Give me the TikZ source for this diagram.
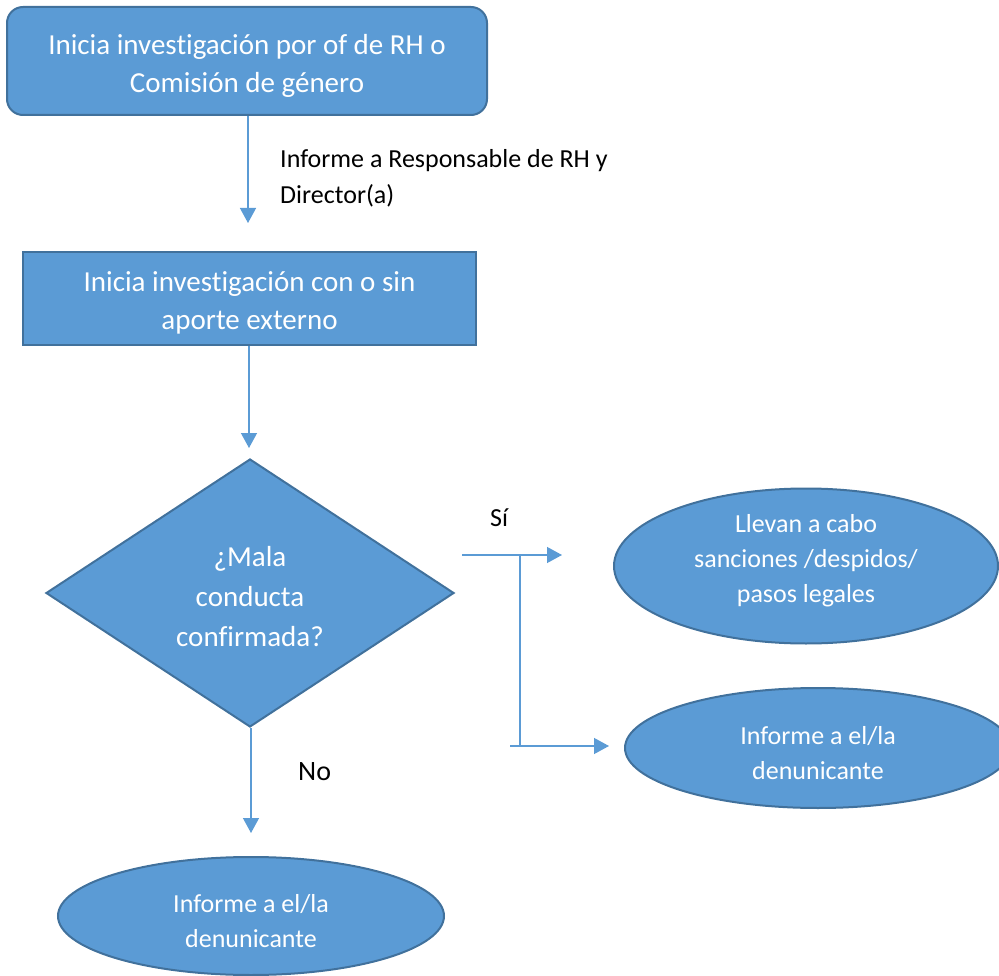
\documentclass[tikz,border=0pt]{standalone}
\usepackage{fontspec}
\setmainfont{Carlito}[Ligatures=NoCommon]
\usetikzlibrary{shapes.geometric,arrows.meta}
\definecolor{boxfill}{HTML}{5B9BD5}
\definecolor{boxline}{HTML}{41719C}
\definecolor{conn}{HTML}{5B9BD5}
\tikzset{
  shp/.style={fill=boxfill,draw=boxline,line width=2pt,inner sep=0pt},
  txt/.style={text=white,align=center,inner sep=0pt},
  bigtxt/.style={font=\fontsize{29}{38}\selectfont},
  elltxt/.style={font=\fontsize{26}{35}\selectfont},
  arr/.style={draw=conn,line width=1.3pt,-{Triangle[length=15pt,width=16pt]}},
  ln/.style={draw=conn,line width=1.3pt},
  lbl/.style={text=black,inner sep=0pt,anchor=base west,align=left}
}
\begin{document}
\begin{tikzpicture}[x=1pt,y=-1pt]
\useasboundingbox (0,0) rectangle (999,976);
\clip (0,0) rectangle (999,976);
% shapes
\node[shp,rectangle,rounded corners=16pt,minimum width=480pt,minimum height=108pt] (b1) at (247,61) {};
\node[txt,bigtxt] (b1t) at (247,66) {Inicia investigación por of de RH o\\Comisión de género};
\node[shp,rectangle,minimum width=453pt,minimum height=93pt] (b2) at (249.5,298.5) {};
\node[txt,bigtxt] (b2t) at (249.5,303) {Inicia investigación con o sin\\aporte externo};
\node[shp,diamond,minimum width=408pt,minimum height=268pt] (d) at (250,593) {};
\node[txt,font=\fontsize{29}{40}\selectfont] (dt) at (250,597)
  {¿Mala\\conducta\\confirmada?};
\node[shp,ellipse,minimum width=384pt,minimum height=155pt] (e1) at (806,566) {};
\node[txt,elltxt] (e1t) at (806,561)
  {Llevan a cabo\\sanciones /despidos/\\pasos legales};
\node[shp,ellipse,minimum width=386pt,minimum height=120pt] (e2) at (818,748) {};
\node[txt,elltxt] (e2t) at (818,753)
  {Informe a el/la\\denunicante};
\node[shp,ellipse,minimum width=386pt,minimum height=118pt] (e3) at (251,916) {};
\node[txt,elltxt] (e3t) at (251,921)
  {Informe a el/la\\denunicante};
% labels
\node[lbl,font=\fontsize{26}{36}\selectfont] (l1) at (280,204) {Informe a Responsable de RH y\\Director(a)};
\node[lbl,font=\fontsize{28}{34}\selectfont] (lno) at (298,780) {No};
\node[lbl,font=\fontsize{26}{34}\selectfont] (lsi) at (490,526) {Sí};
% coordinates
\coordinate (t1) at (248,223);
\coordinate (t2) at (249,448);
\coordinate (t3) at (251,833);
\coordinate (s0) at (462,555);
\coordinate (s1) at (562,555);
\coordinate (v0) at (520,555);
\coordinate (v1) at (520,746);
\coordinate (h0) at (510,746);
\coordinate (h1) at (609,746);
% connectors
\draw[arr] (b1.south -| t1) -- (t1);
\draw[arr] (b2.south -| t2) -- (t2);
\draw[arr] (d.south -| t3) -- (t3);
\draw[arr] (s0) -- (s1);
\draw[ln] (v0) -- (v1);
\draw[arr] (h0) -- (h1);
\end{tikzpicture}
\end{document}
